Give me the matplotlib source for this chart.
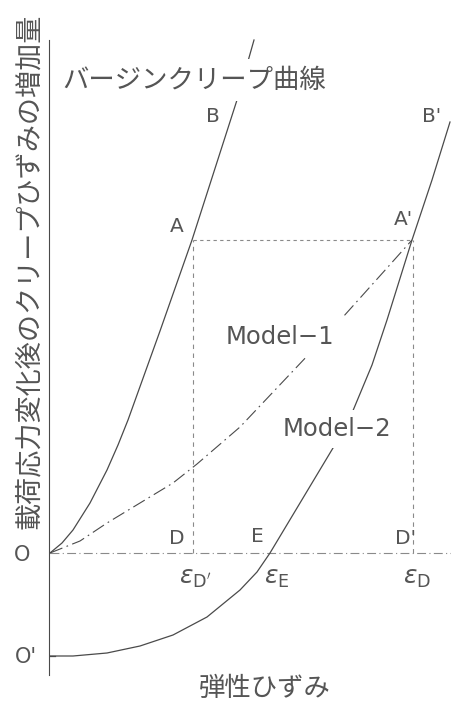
import numpy as np
import matplotlib
matplotlib.use('Agg')
import matplotlib.pyplot as plt

plt.rcParams['font.family'] = ['Noto Sans CJK JP', 'DejaVu Sans']
plt.rcParams['mathtext.fontset'] = 'dejavusans'

# バージンクリープ曲線 (O -> A -> B)
virgin_x = [0, 0.12, 0.23, 0.40, 0.57, 0.68, 0.78, 1.10, 1.42, 1.87, 2.04]
virgin_y = [0, 0.10, 0.23, 0.50, 0.83, 1.08, 1.33, 2.22, 3.13, 4.53, 5.13]

# Model-2 (O' -> E -> A' -> B')
model2_x = [0, 0.23, 0.57, 0.90, 1.23, 1.57, 1.90, 2.07, 2.20, 2.50, 2.83,
            3.02, 3.22, 3.37, 3.62, 3.82, 4.00]
model2_y = [-1.03, -1.03, -1.00, -0.93, -0.82, -0.64, -0.37, -0.19, 0, 0.50, 1.05,
            1.40, 1.88, 2.33, 3.13, 3.73, 4.31]

# Model-1 (O -> A')
model1_x = [0, 0.30, 0.57, 0.90, 1.23, 1.47, 1.90, 2.60, 2.93, 3.37, 3.62]
model1_y = [0, 0.12, 0.30, 0.50, 0.70, 0.89, 1.26, 2.00, 2.36, 2.85, 3.13]

eps_D1 = 1.43   # ε_D'
eps_E = 2.20    # ε_E
eps_D = 3.63    # ε_D
y_A = 3.13
y_O2 = -1.03

line_c = '#4a4a4a'
dash_c = '#8a8a8a'
text_c = '#555555'

fig = plt.figure(figsize=(4.52, 7.04), dpi=100)
ax = fig.add_axes([0, 0, 1, 1])
ax.set_xlim(-0.50, 4.02)
ax.set_ylim(-1.51, 5.53)
ax.axis('off')

# 縦軸と横軸(一点鎖線)
ax.plot([-0.01, -0.01], [-1.22, 5.13], color=line_c, lw=0.8)
ax.plot([0, 4.02], [0, 0], color=dash_c, lw=0.8, dashes=(8, 3, 1, 3))
ax.plot([0, 0.05], [y_O2, y_O2], color=line_c, lw=0.9)

ax.plot(virgin_x, virgin_y, color=line_c, lw=0.9)
ax.plot(model2_x, model2_y, color=line_c, lw=0.9)
ax.plot(model1_x, model1_y, color=line_c, lw=0.8, dashes=(12, 4, 1.5, 4))

# A-A', A-D, A'-D' の破線
ax.plot([eps_D1, eps_D], [y_A, y_A], color=dash_c, lw=0.8, dashes=(3, 3))
ax.plot([eps_D1, eps_D1], [0, y_A], color=dash_c, lw=0.8, dashes=(4, 4))
ax.plot([eps_D, eps_D], [0, y_A], color=dash_c, lw=0.8, dashes=(4, 4))

white = dict(boxstyle='square,pad=0.3', fc='white', ec='none')
ax.text(0.12, 4.73, 'バージンクリープ曲線', fontsize=19, color=text_c,
        ha='left', va='center', bbox=white)
ax.text(2.30, 2.16, 'Model\u22121', fontsize=17.5, color=text_c,
        ha='center', va='center', bbox=white, family='DejaVu Sans')
ax.text(2.87, 1.24, 'Model\u22122', fontsize=17.5, color=text_c,
        ha='center', va='center', bbox=white, family='DejaVu Sans')

pts = [('A', 1.27, 3.26), ('B', 1.63, 4.36), ("A'", 3.53, 3.33), ("B'", 3.82, 4.36),
       ('D', 1.27, 0.15), ('E', 2.07, 0.16), ("D'", 3.56, 0.15)]
for s, x, y in pts:
    ax.text(x, y, s, fontsize=14.5, color=text_c, ha='center', va='center',
            family='DejaVu Sans')
ax.text(-0.28, -0.02, 'O', fontsize=15, color=text_c, ha='center', va='center',
        family='DejaVu Sans')
ax.text(-0.24, -1.04, "O'", fontsize=15, color=text_c, ha='center', va='center',
        family='DejaVu Sans')

ax.text(eps_D1 + 0.02, -0.24, r"$\varepsilon_{\mathrm{D'}}$", fontsize=18,
        color=text_c, ha='center', va='center')
ax.text(eps_E + 0.07, -0.24, r'$\varepsilon_{\mathrm{E}}$', fontsize=18,
        color=text_c, ha='center', va='center')
ax.text(eps_D + 0.04, -0.24, r'$\varepsilon_{\mathrm{D}}$', fontsize=18,
        color=text_c, ha='center', va='center')

ax.text(-0.20, 2.82, '載荷応力変化後のクリープひずみの増加量', fontsize=19.5,
        color=text_c, rotation=90, ha='center', va='center')
ax.text(2.15, -1.35, '弾性ひずみ', fontsize=19, color=text_c,
        ha='center', va='center')

fig.savefig('out.png', dpi=100)
